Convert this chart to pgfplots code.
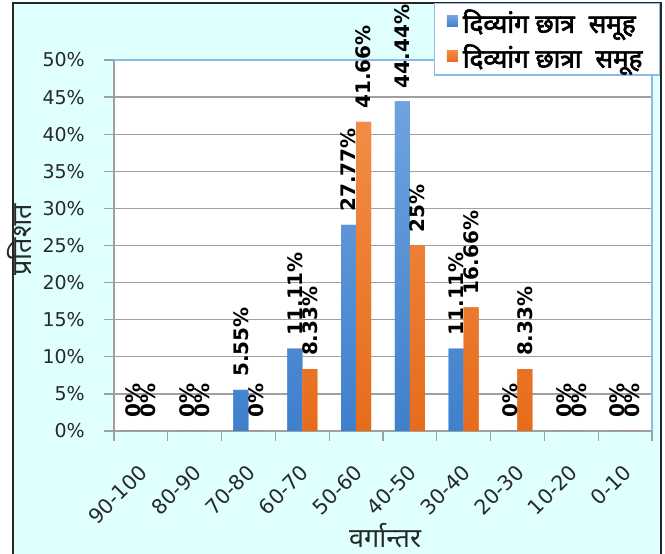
\documentclass[border=0pt]{standalone}
\usepackage{fontspec}
\usepackage{pgfplots}
\pgfplotsset{compat=1.18}
\setmainfont{DejaVu Sans}
\newfontfamily\dev[Script=Devanagari]{Noto Sans}
\newfontfamily\devb[Script=Devanagari, FakeBold=2.5]{Noto Sans}
\definecolor{bgcyan}{RGB}{224,255,255}
\definecolor{barblue}{RGB}{79,143,214}
\definecolor{bluetop}{RGB}{110,163,222}
\definecolor{bluebot}{RGB}{63,128,204}
\definecolor{barorange}{RGB}{240,125,45}
\definecolor{orangetop}{RGB}{242,140,70}
\definecolor{orangebot}{RGB}{230,108,28}
\definecolor{frameblue}{RGB}{140,185,230}
\definecolor{gridgray}{RGB}{160,160,160}
\definecolor{txt}{RGB}{40,40,40}
\begin{document}
\begin{tikzpicture}[x=1pt,y=1pt]
\fill[white] (0,0) rectangle (665,554);
\fill[bgcyan] (13,0) rectangle (661,551);
\draw[black!85, line width=2.5pt] (13,0) -- (13,551) -- (661,551) -- (661,0);
\begin{axis}[
  at={(114pt,123pt)}, anchor=south west,
  scale only axis, width=538pt, height=371pt,
  ybar=0pt, bar width=15pt,
  xmin=-0.5, xmax=9.5, ymin=0, ymax=50,
  axis x line*=bottom, axis y line*=left,
  axis line style={draw=gridgray, line width=1.3pt},
  axis background/.style={fill=white},
  xtick={-0.5,0.5,...,9.5},
  xticklabels={},
  extra x ticks={0,1,...,9},
  extra x tick labels={90-100,80-90,70-80,60-70,50-60,40-50,30-40,20-30,10-20,0-10},
  extra x tick style={tick style={draw=none}},
  ytick={0,5,...,50},
  yticklabel={\pgfmathparse{int(\tick)}\pgfmathresult\%},
  tick align=outside,
  major tick length=10pt,
  tick style={draw=gridgray, line width=1.3pt},
  ymajorgrids,
  grid style={draw=gridgray, line width=1.3pt},
  yticklabel style={font=\fontsize{19}{19}\selectfont, text=txt, inner sep=0pt, xshift=-19pt},
  xticklabel style={font=\fontsize{20.5}{20.5}\selectfont, text=txt, anchor=north east, inner sep=0pt, yshift=-22pt, xshift=-3pt, rotate=45},
  xlabel={\dev\fontsize{27}{27}\selectfont वर्गान्तर},
  xlabel style={at={(axis description cs:0.504,-0.283)}, anchor=center, text=txt},
  ylabel={\dev\fontsize{27}{27}\selectfont प्रतिशत},
  ylabel style={at={(axis description cs:-0.176,0.515)}, anchor=center, text=txt},
  point meta=explicit symbolic,
  nodes near coords={\pgfplotspointmeta\%},
  nodes near coords style={font=\bfseries\fontsize{20}{20}\selectfont, text=black, rotate=90, anchor=west, inner xsep=13pt, inner ysep=0pt},
  legend style={at={(1.015,1.154)}, anchor=north east, draw=frameblue, line width=1.2pt, fill=white,
    font=\devb\fontsize{26}{26}\selectfont, row sep=6pt, inner xsep=12pt, inner ysep=4pt,
    nodes={inner xsep=5pt}},
  legend cell align=left,
  legend image code/.code={\fill[#1, draw=none] (0pt,-5pt) rectangle (11pt,6pt);},
  clip=false,
]
\addplot[draw=none, top color=bluetop, bottom color=bluebot, fill=barblue] coordinates {
 (0,0) [0] (1,0) [0] (2,5.55) [5.55] (3,11.11) [11.11] (4,27.77) [27.77]
 (5,44.44) [44.44] (6,11.11) [11.11] (7,0) [0] (8,0) [0] (9,0) [0]};
\addplot[draw=none, top color=orangetop, bottom color=orangebot, fill=barorange] coordinates {
 (0,0) [0] (1,0) [0] (2,0) [0] (3,8.33) [8.33] (4,41.66) [41.66]
 (5,25) [25] (6,16.66) [16.66] (7,8.33) [8.33] (8,0) [0] (9,0) [0]};
\legend{दिव्यांग छात्र\hspace{14pt}समूह, दिव्यांग छात्रा\hspace{14pt}समूह}
\draw[frameblue, line width=1.3pt] (rel axis cs:0,1) -- (rel axis cs:1,1) -- (rel axis cs:1,0);
\end{axis}
\pgfresetboundingbox
\useasboundingbox (0,0) rectangle (665,554);
\end{tikzpicture}
\end{document}
